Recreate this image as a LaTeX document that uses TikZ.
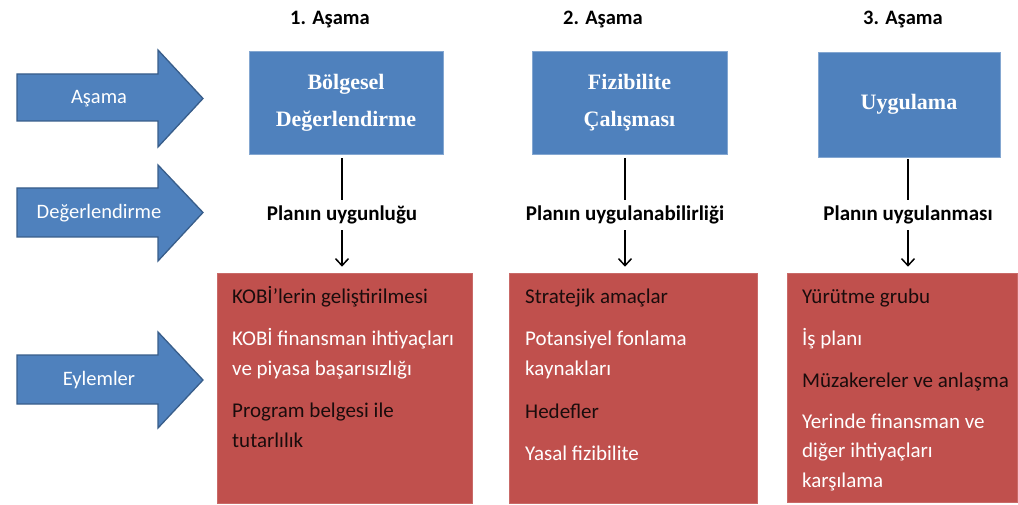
\documentclass[tikz,border=0pt]{standalone}
\usepackage{fontspec}
\setmainfont{Carlito}
\newfontfamily\stageserif{Liberation Serif}
\usetikzlibrary{arrows.meta}
\definecolor{stageblue}{HTML}{4F81BD}
\definecolor{stageedge}{HTML}{385D8A}
\definecolor{actred}{HTML}{C0504D}
\definecolor{darkink}{HTML}{1A0C0C}
\begin{document}
\begin{tikzpicture}[x=1pt,y=-1pt,
  bigarrow/.style={fill=stageblue,draw=stageedge,line width=1.3pt,line join=miter},
  arrowtext/.style={text=white,font=\fontsize{20.5}{24}\selectfont,inner sep=0pt},
  stagebox/.style={fill=stageblue,draw=stageblue!70!white,line width=0.6pt,text=white,
    align=center,font=\stageserif\bfseries\fontsize{22}{37}\selectfont},
  heading/.style={font=\bfseries\fontsize{20.5}{24}\selectfont,inner sep=0pt},
  critlabel/.style={font=\bfseries\fontsize{21}{24}\selectfont,minimum height=30pt,inner sep=0pt},
  actbox/.style={fill=actred,draw=actred!85!white,line width=0.6pt},
  item/.style={anchor=base west,align=left,inner sep=0pt,font=\fontsize{21}{29.5}\selectfont},
  darkitem/.style={item,text=darkink},
  lightitem/.style={item,text=white},
  conn/.style={line width=1.5pt,black},
  connarrow/.style={conn,-{Straight Barb[length=7pt,width=13pt,line width=1.5pt]}}
]
\useasboundingbox (0,0) rectangle (1018,505);

% row arrows on the left
\draw[bigarrow] (17,74) -- (158,74) -- (158,50) -- (203,98.5) -- (158,147) -- (158,121) -- (17,121) -- cycle;
\node[arrowtext] (rowstage) at (99,99) {Aşama};
\draw[bigarrow] (17,188) -- (158,188) -- (158,165) -- (203,212.5) -- (158,261) -- (158,237) -- (17,237) -- cycle;
\node[arrowtext] (roweval) at (99,213) {Değerlendirme};
\draw[bigarrow] (17,355) -- (158,355) -- (158,332) -- (203,380) -- (158,428) -- (158,404) -- (17,404) -- cycle;
\node[arrowtext] (rowact) at (99,380) {Eylemler};

% stage headings
\node[heading] (h1) at (330,20) {1. Aşama};
\node[heading] (h2) at (603,20) {2. Aşama};
\node[heading] (h3) at (903,20) {3. Aşama};

% stage boxes
\node[stagebox,minimum width=194pt,minimum height=103pt] (s1) at (346,102.5) {Bölgesel\\Değerlendirme};
\node[stagebox,minimum width=195pt,minimum height=103pt] (s2) at (629.5,102.5) {Fizibilite\\Çalışması};
\node[stagebox,minimum width=182pt,minimum height=105pt] (s3) at (909,104.5) {Uygulama};

% criteria labels
\node[critlabel] (c1) at (342,215) {Planın uygunluğu};
\node[critlabel] (c2) at (625,215) {Planın uygulanabilirliği};
\node[critlabel] (c3) at (908,215) {Planın uygulanması};

% action boxes
\node[actbox,minimum width=255pt,minimum height=230pt] (r1) at (344.5,388) {};
\node[actbox,minimum width=248pt,minimum height=230pt] (r2) at (633,388) {};
\node[actbox,minimum width=230pt,minimum height=229pt] (r3) at (902,387.5) {};

% connectors
\draw[conn,shorten <=4pt] (c1.north |- s1.south) -- (c1.north);
\draw[connarrow,shorten >=6pt] (c1.south) -- (c1.south |- r1.north);
\draw[conn,shorten <=4pt] (c2.north |- s2.south) -- (c2.north);
\draw[connarrow,shorten >=6pt] (c2.south) -- (c2.south |- r2.north);
\draw[conn,shorten <=2pt] (c3.north |- s3.south) -- (c3.north);
\draw[connarrow,shorten >=6pt] (c3.south) -- (c3.south |- r3.north);

% items of the first stage (base anchor sits on the last line)
\node[darkitem] (a1) at (232,303) {KOBİ’lerin geliştirilmesi};
\node[lightitem] (a2) at (232,375) {KOBİ finansman ihtiyaçları\\ve piyasa başarısızlığı};
\node[darkitem] (a3) at (232,447) {Program belgesi ile\\tutarlılık};

% items of the second stage
\node[darkitem] (b1) at (525,303) {Stratejik amaçlar};
\node[lightitem] (b2) at (525,375) {Potansiyel fonlama\\kaynakları};
\node[darkitem] (b3) at (525,418) {Hedefler};
\node[lightitem] (b4) at (525,460) {Yasal fizibilite};

% items of the third stage
\node[darkitem] (d1) at (802,303) {Yürütme grubu};
\node[lightitem] (d2) at (802,345) {İş planı};
\node[darkitem] (d3) at (802,387) {Müzakereler ve anlaşma};
\node[lightitem] (d4) at (802,487) {Yerinde finansman ve\\diğer ihtiyaçları\\karşılama};
\end{tikzpicture}
\end{document}
